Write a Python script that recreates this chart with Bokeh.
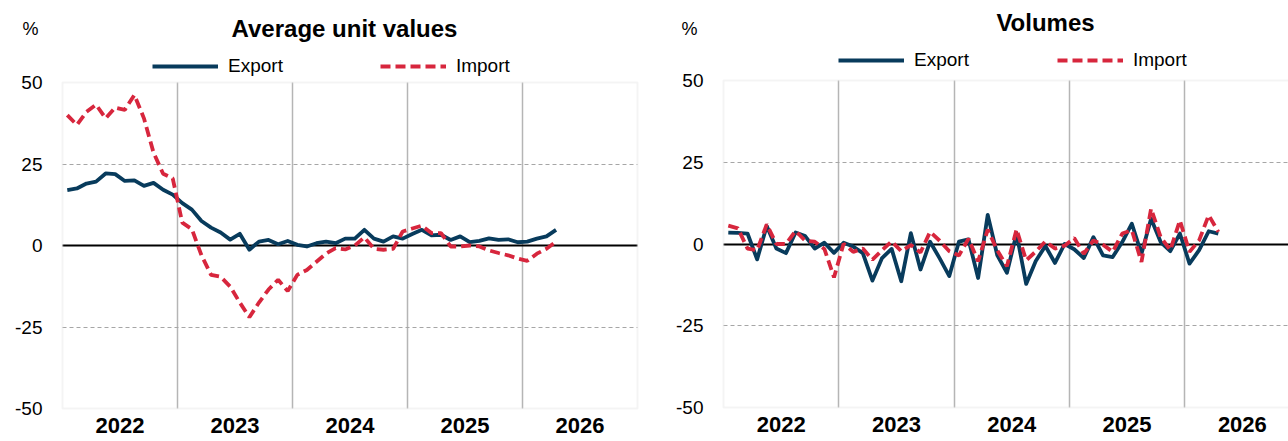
import numpy as np
import pandas as pd
from bokeh.plotting import figure
from bokeh.layouts import row
from bokeh.models import (FixedTicker, Label, Legend, LegendItem, Range1d, Grid,
                          LinearAxis, BoxAnnotation)
from bokeh.embed import file_html
from bokeh.resources import INLINE

# ---------------- data ----------------
months = pd.date_range("2022-01-01", periods=52, freq="MS")

auv_export = [17.0, 17.5, 19.0, 19.6, 22.1, 21.9, 19.8, 20.0, 18.3, 19.2, 17.1, 15.6,
              13.0, 11.0, 7.5, 5.5, 4.0, 1.8, 3.6, -1.3, 1.2, 1.7, 0.4, 1.4,
              0.2, -0.3, 0.7, 1.2, 0.7, 2.1, 2.1, 4.8, 2.1, 1.2, 2.8, 2.1,
              3.5, 4.8, 3.1, 3.3, 1.7, 2.8, 1.0, 1.4, 2.2, 1.7, 1.9, 1.0,
              1.2, 2.1, 2.8, 4.8]
auv_import = [40.0, 37.0, 41.0, 43.2, 39.0, 42.3, 41.6, 46.2, 39.0, 28.5, 22.0, 20.6,
              7.0, 5.0, -3.0, -9.0, -9.6, -12.6, -17.5, -22.0, -17.5, -13.5, -10.5, -14.0,
              -9.0, -7.5, -5.0, -2.5, -0.8, -1.2, 0.0, 2.5, -1.0, -1.3, -1.0, 4.3,
              5.2, 6.1, 3.8, 3.8, -0.3, -0.3, 0.0, -0.3, -1.5, -2.3, -3.0, -4.0,
              -4.7, -2.5, -1.0, 1.2]
vol_export = [3.5, 3.4, 3.2, -4.7, 5.5, -1.4, -2.8, 3.5, 2.4, -1.4, 0.4, -2.7,
              0.4, -0.8, -2.8, -11.2, -4.3, -1.5, -11.4, 3.3, -7.8, 0.7, -4.4, -9.8,
              0.7, 1.4, -10.4, 8.9, -3.5, -8.8, 3.2, -12.2, -5.2, -0.6, -5.8, 0.0,
              -1.6, -4.3, 2.1, -3.5, -4.0, 0.6, 6.2, -3.0, 7.7, 0.6, -2.2, 3.2,
              -6.0, -1.9, 3.9, 3.2]
vol_import = [5.6, 4.8, -1.4, -1.9, 6.0, 0.0, 0.0, 4.0, 1.0, 0.7, -1.5, -10.2,
              0.1, -2.4, -1.4, -4.8, -1.9, 0.8, -2.2, -0.3, -2.6, 3.7, 1.0, -2.2,
              -3.5, 1.6, -5.3, 4.4, -2.0, -6.8, 4.5, -5.0, -2.3, 0.8, -1.4, -0.5,
              1.8, -3.0, 1.1, -0.2, -2.4, 3.2, 4.2, -5.5, 10.8, 2.1, -1.9, 7.2,
              -2.4, 1.1, 8.8, 3.7]

years = [2022, 2023, 2024, 2025, 2026]
year_labels = ["2022", "2023", "2024", "2025", "2026"]
y_ticks = [-50, -25, 0, 25, 50]
y_tick_labels = ["-50", "-25", "0", "25", "50"]
series_names = ["Export", "Import"]
titles = ["Average unit values", "Volumes"]
unit_label = "%"

# month centres in fractional years
xm = np.array(months.year + (months.month - 0.5) / 12.0, dtype=float)

FONT = "Liberation Sans"
EXP_COLOR = "#083b5c"
IMP_COLOR = "#d7263d"
LINE_W = 3.8
DASH = "10 5"
Y_MIN, Y_MAX = -50, 50
X_MIN, X_MAX = years[0], years[-1] + 1
HAS_CROSS = "cross_bounds" in Grid.properties()


def make_chart(title, exp, imp, W, H, box_left, ppy, box_top, box_bottom,
               legend_px, legend_py, title_px, title_py, pct_px, pct_py, legend_spacing):
    # the frame covers the whole figure; the chart box is drawn inside it
    ppu = (box_bottom - box_top) / (Y_MAX - Y_MIN)
    x0 = X_MIN - box_left / ppy
    x1 = x0 + W / ppy
    y1 = Y_MAX + box_top / ppu
    y0 = y1 - H / ppu

    def X(px):
        return x0 + px / ppy

    def Y(py):
        return y1 - py / ppu

    p = figure(width=W, height=H, output_backend="svg", toolbar_location=None,
               x_range=Range1d(x0, x1), y_range=Range1d(y0, y1),
               x_axis_type=None, y_axis_type=None,
               min_border_left=0, min_border_right=0, min_border_top=0, min_border_bottom=0)
    p.outline_line_color = None
    p.background_fill_color = "white"
    p.border_fill_color = "white"

    # grids inside the box
    def grid(dim, ticks, color, width, dash="solid"):
        g = Grid(dimension=dim, ticker=FixedTicker(ticks=ticks),
                 grid_line_color=color, grid_line_width=width, grid_line_dash=dash)
        if HAS_CROSS:
            g.cross_bounds = (Y_MIN, Y_MAX) if dim == 0 else (X_MIN, X_MAX)
            p.add_layout(g)
        else:
            if dim == 0:
                p.segment(x0=ticks, y0=[Y_MIN] * len(ticks), x1=ticks, y1=[Y_MAX] * len(ticks),
                          line_color=color, line_width=width, line_dash=dash)
            else:
                p.segment(x0=[X_MIN] * len(ticks), y0=ticks, x1=[X_MAX] * len(ticks), y1=ticks,
                          line_color=color, line_width=width, line_dash=dash)

    grid(0, years[1:], "#b5b5b5", 1.5)
    grid(1, [-25, 25], "#a6a6a6", 1, "4 3")

    p.add_layout(BoxAnnotation(left=X_MIN, right=X_MAX, bottom=Y_MIN, top=Y_MAX,
                               fill_alpha=0, line_color="#d9d9d9", line_width=2))
    grid(1, [0], "black", 2)

    # axes fixed to the box edges
    xaxis = LinearAxis(fixed_location=Y_MIN, ticker=FixedTicker(ticks=[y + 0.5 for y in years]),
                       major_label_overrides={y + 0.5: lab for y, lab in zip(years, year_labels)},
                       axis_line_color=None, major_tick_line_color=None,
                       minor_tick_line_color=None, major_tick_in=0, major_tick_out=0,
                       major_label_text_font=FONT, major_label_text_font_style="bold",
                       major_label_text_font_size="22px", major_label_text_color="black",
                       major_label_standoff=9)
    p.add_layout(xaxis, "below")
    yaxis = LinearAxis(fixed_location=X_MIN, ticker=FixedTicker(ticks=y_ticks),
                       major_label_overrides=dict(zip(y_ticks, y_tick_labels)),
                       axis_line_color=None, major_tick_line_color=None,
                       minor_tick_line_color=None, major_tick_in=0, major_tick_out=0,
                       major_label_text_font=FONT, major_label_text_font_size="19px",
                       major_label_text_color="black", major_label_standoff=20)
    p.add_layout(yaxis, "left")

    r_exp = p.line(xm, exp, line_color=EXP_COLOR, line_width=LINE_W, line_join="round")
    r_imp = p.line(xm, imp, line_color=IMP_COLOR, line_width=LINE_W, line_dash=DASH)

    legend = Legend(items=[LegendItem(label=series_names[0], renderers=[r_exp]),
                           LegendItem(label=series_names[1], renderers=[r_imp])],
                    orientation="horizontal", location=(legend_px, H - legend_py - 10.6),
                    glyph_width=66, glyph_height=20, label_standoff=10,
                    spacing=legend_spacing, padding=0, margin=0,
                    border_line_color=None, background_fill_alpha=0,
                    label_text_font=FONT, label_text_font_size="19px",
                    label_text_color="black")
    p.add_layout(legend)

    p.add_layout(Label(x=X(title_px), y=Y(title_py), text=title, text_align="center",
                       text_baseline="middle", text_font=FONT, text_font_style="bold",
                       text_font_size="24px", text_color="black"))
    p.add_layout(Label(x=X(pct_px), y=Y(pct_py), text=unit_label, text_align="center",
                       text_baseline="middle", text_font=FONT,
                       text_font_size="18px", text_color="black"))
    return p


# left chart: box x 62..637, y 82..408
left = make_chart(titles[0], auv_export, auv_import, W=665, H=441, box_left=62, ppy=115.0,
                  box_top=82, box_bottom=408, legend_px=152, legend_py=66,
                  title_px=344, title_py=28, pct_px=30, pct_py=28, legend_spacing=97)
# right chart: box x 723.., y 80..407 (local x = image x - 665)
right = make_chart(titles[1], vol_export, vol_import, W=623, H=441, box_left=58, ppy=115.3,
                   box_top=80, box_bottom=407, legend_px=173, legend_py=60,
                   title_px=380, title_py=22, pct_px=24, pct_py=28, legend_spacing=88)

layout = row(left, right, spacing=0)
open("out.html", "w").write(file_html(layout, INLINE))
